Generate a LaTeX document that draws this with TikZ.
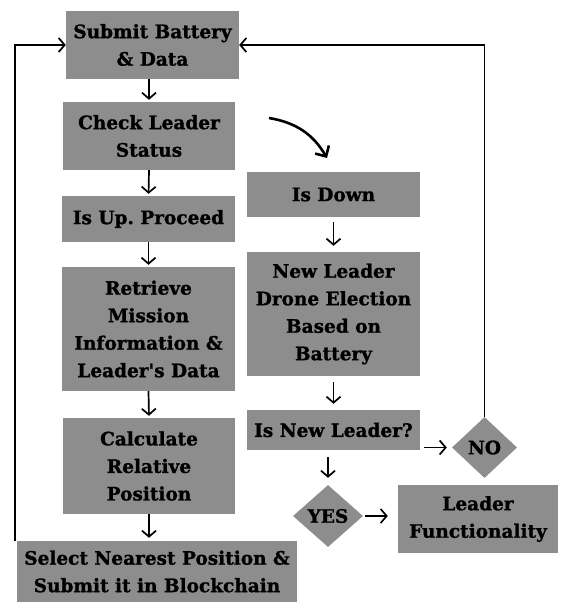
\documentclass[tikz,border=0pt]{standalone}
\usepackage{fontspec}
\setmainfont{DejaVu Serif}[BoldFeatures={FakeBold=1.2}]
\usetikzlibrary{arrows.meta,shapes.geometric}
\definecolor{boxgray}{RGB}{141,141,141}
\frenchspacing
\tikzset{
  stepbox/.style={fill=boxgray, draw=none, align=center, inner sep=0pt,
    font=\bfseries\fontsize{18.5}{27.5}\selectfont, text=black},
  choice/.style={diamond, fill=boxgray, draw=none, inner sep=0pt, aspect=1,
    font=\bfseries\fontsize{18.5}{20}\selectfont, text=black},
  flow/.style={-{Straight Barb[length=6pt,width=14pt]}, line width=1.7pt},
  bigflow/.style={-{Straight Barb[length=8pt,width=16pt]}, line width=2.6pt},
}
\begin{document}
\begin{tikzpicture}[x=1pt,y=-1pt]
\useasboundingbox (0,0) rectangle (562,602);
% left column
\node[stepbox, minimum width=173, minimum height=68] (b1) at (152.5,45) {Submit Battery\\\& Data};
\node[stepbox, minimum width=172, minimum height=68] (b2) at (149,136) {Check Leader\\Status};
\node[stepbox, minimum width=173, minimum height=46] (b3) at (148.5,219) {Is Up. Proceed};
\node[stepbox, minimum width=173, minimum height=124] (b4) at (148.5,329) {Retrieve\\Mission\\Information \&\\Leader\textquotesingle s Data};
\node[stepbox, minimum width=172, minimum height=96] (b5) at (149,466) {Calculate\\Relative\\Position};
\node[stepbox, minimum width=280, minimum height=61] (b6) at (157,571.5) {Select Nearest Position \&\\Submit it in Blockchain};
% right column
\node[stepbox, minimum width=173, minimum height=45] (dn) at (333.5,194.5) {Is Down};
\node[stepbox, minimum width=173, minimum height=124] (el) at (333.5,314) {New Leader\\Drone Election\\Based on\\Battery};
\node[stepbox, minimum width=173, minimum height=40] (nl) at (333.5,430) {Is New Leader?};
\node[choice, minimum width=65, minimum height=61] (no) at (484.5,447.5) {NO};
\node[choice, minimum width=70, minimum height=62] (yes) at (328,516) {YES};
\node[stepbox, minimum width=160, minimum height=68] (lf) at (478,519) {Leader\\Functionality};
% vertical flow arrows
\draw[flow, shorten >=2pt] (b1.south -| b2.north) -- (b2.north);
\draw[flow, shorten >=2pt] (b2.south) -- (b3.north);
\draw[flow, shorten >=2pt] (b3.south) -- (b4.north);
\draw[flow, shorten >=2pt] (b4.south) -- (b5.north);
\draw[flow, shorten >=3pt] (b5.south) -- (b5.south |- b6.north);
\draw[flow, shorten <=5pt, shorten >=6pt] (dn.south -| el.north) -- (el.north);
\draw[flow, shorten <=6pt, shorten >=6pt] (el.south) -- (nl.north);
\draw[flow, shorten <=7pt, shorten >=7pt] (nl.south -| yes.north) -- (yes.north);
% side arrows
\draw[flow, shorten <=4pt, shorten >=5pt] (nl.east |- no.west) -- (no.west);
\draw[flow, shorten <=2pt, shorten >=10pt] (yes.east) -- (yes.east -| lf.west);
% branch to the failure path
\coordinate (cs) at (269,118);
\coordinate (ce) at (327,158);
\draw[bigflow] (cs) to[bend left=25] (ce);
% feedback loops
\coordinate (lp) at (15,541);
\draw[flow] (lp) |- (b1.west);
\draw[flow] (no.north) |- (b1.east);
\end{tikzpicture}
\end{document}
